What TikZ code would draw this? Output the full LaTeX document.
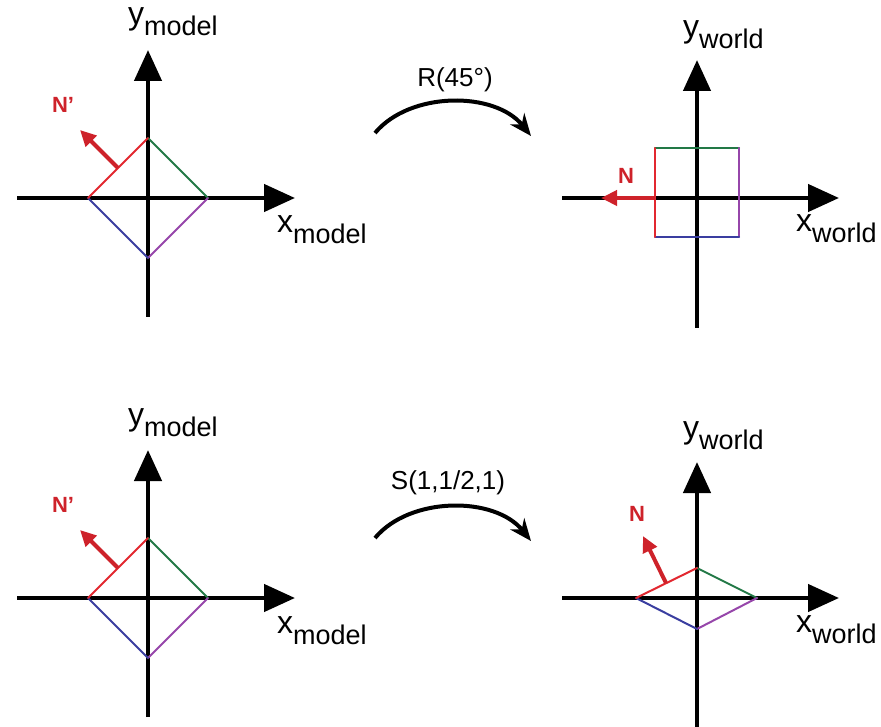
\documentclass[tikz,border=0pt]{standalone}
\usepackage{fontspec}
\setmainfont{Liberation Sans}
\usetikzlibrary{arrows.meta}
\definecolor{nred}{RGB}{206,34,42}
\definecolor{sred}{RGB}{226,40,48}
\definecolor{sgreen}{RGB}{34,120,70}
\definecolor{sblue}{RGB}{58,62,160}
\definecolor{spurple}{RGB}{150,70,170}
\newcommand{\axlab}[2]{{\fontsize{32}{34}\selectfont #1}\raisebox{-11pt}{#2}}
\begin{document}
\begin{tikzpicture}[x=1pt, y=-1pt,
        axis/.style={line width=4.5pt, -{Triangle[length=31pt, width=27pt]}},
        side/.style={line width=2pt, line cap=round},
        normal/.style={draw=nred, line width=4pt, -{Triangle[length=16pt, width=15pt]}},
        nlabel/.style={text=nred, font=\fontsize{22}{24}\selectfont\bfseries},
        axlabel/.style={anchor=base west, inner sep=0pt, font=\fontsize{27}{30}\selectfont},
        maplabel/.style={font=\fontsize{26}{28}\selectfont},
        maparrow/.style={line width=4pt, -{Stealth[length=22pt, width=18pt]}}]
    \useasboundingbox (0,0) rectangle (881,727);
    % top left: model space
    \coordinate (a1w) at (17,198);
    \coordinate (a1e) at (295,198);
    \coordinate (a1s) at (148,317);
    \coordinate (a1n) at (148,50);
    \draw[axis] (a1w) -- (a1e);
    \draw[axis] (a1s) -- (a1n);
    \coordinate (d1t) at (148,138);
    \coordinate (d1r) at (208,198);
    \coordinate (d1b) at (148,258);
    \coordinate (d1l) at (88,198);
    \draw[side, sgreen] (d1t) -- (d1r);
    \draw[side, spurple] (d1r) -- (d1b);
    \draw[side, sblue] (d1b) -- (d1l);
    \draw[side, sred] (d1l) -- (d1t);
    \coordinate (n1a) at (118,168);
    \coordinate (n1b) at (80,130);
    \draw[normal] (n1a) -- (n1b);
    \node[nlabel] (n1) at (63,105) {N’};
    \node[axlabel] (y1) at (128,25) {\axlab{y}{model}};
    \node[axlabel] (x1) at (277,233) {\axlab{x}{model}};
    % top right: world space after rotation
    \coordinate (a2w) at (562,198);
    \coordinate (a2e) at (839,198);
    \coordinate (a2s) at (697,328);
    \coordinate (a2n) at (697,60);
    \draw[axis] (a2w) -- (a2e);
    \draw[axis] (a2s) -- (a2n);
    \coordinate (q2a) at (655,148);
    \coordinate (q2b) at (739,148);
    \coordinate (q2c) at (739,237);
    \coordinate (q2d) at (655,237);
    \draw[side, sgreen] (q2a) -- (q2b);
    \draw[side, spurple] (q2b) -- (q2c);
    \draw[side, sblue] (q2c) -- (q2d);
    \draw[side, sred] (q2d) -- (q2a);
    \coordinate (n2a) at (655,198);
    \coordinate (n2b) at (601,198);
    \draw[normal] (n2a) -- (n2b);
    \node[nlabel] (n2) at (626,176) {N};
    \node[axlabel] (y2) at (683,38) {\axlab{y}{world}};
    \node[axlabel] (x2) at (796,232) {\axlab{x}{world}};
    % rotation
    \coordinate (r1) at (375,133);
    \coordinate (r2) at (531,136);
    \draw[maparrow] (r1) .. controls (410,91) and (495,91) .. (r2);
    \node[maplabel] (rot) at (455,80) {R(45°)};
    % bottom left: model space
    \coordinate (a3w) at (17,598);
    \coordinate (a3e) at (295,598);
    \coordinate (a3s) at (148,717);
    \coordinate (a3n) at (148,450);
    \draw[axis] (a3w) -- (a3e);
    \draw[axis] (a3s) -- (a3n);
    \coordinate (d3t) at (148,538);
    \coordinate (d3r) at (208,598);
    \coordinate (d3b) at (148,658);
    \coordinate (d3l) at (88,598);
    \draw[side, sgreen] (d3t) -- (d3r);
    \draw[side, spurple] (d3r) -- (d3b);
    \draw[side, sblue] (d3b) -- (d3l);
    \draw[side, sred] (d3l) -- (d3t);
    \coordinate (n3a) at (118,568);
    \coordinate (n3b) at (80,530);
    \draw[normal] (n3a) -- (n3b);
    \node[nlabel] (n3) at (63,505) {N’};
    \node[axlabel] (y3) at (128,425) {\axlab{y}{model}};
    \node[axlabel] (x3) at (277,633) {\axlab{x}{model}};
    % bottom right: world space after scaling
    \coordinate (a4w) at (562,598);
    \coordinate (a4e) at (839,598);
    \coordinate (a4s) at (697,727);
    \coordinate (a4n) at (697,462);
    \draw[axis] (a4w) -- (a4e);
    \draw[axis] (a4s) -- (a4n);
    \coordinate (d4t) at (697,568);
    \coordinate (d4r) at (757,598);
    \coordinate (d4b) at (697,629);
    \coordinate (d4l) at (636,598);
    \draw[side, sgreen] (d4t) -- (d4r);
    \draw[side, spurple] (d4r) -- (d4b);
    \draw[side, sblue] (d4b) -- (d4l);
    \draw[side, sred] (d4l) -- (d4t);
    \coordinate (n4a) at (666,583);
    \coordinate (n4b) at (643,536);
    \draw[normal] (n4a) -- (n4b);
    \node[nlabel] (n4) at (637,514) {N};
    \node[axlabel] (y4) at (683,438) {\axlab{y}{world}};
    \node[axlabel] (x4) at (796,632) {\axlab{x}{world}};
    % scaling
    \coordinate (s1) at (375,538);
    \coordinate (s2) at (531,541);
    \draw[maparrow] (s1) .. controls (410,496) and (495,496) .. (s2);
    \node[maplabel] (scl) at (448,483) {S(1,1/2,1)};
\end{tikzpicture}
\end{document}
